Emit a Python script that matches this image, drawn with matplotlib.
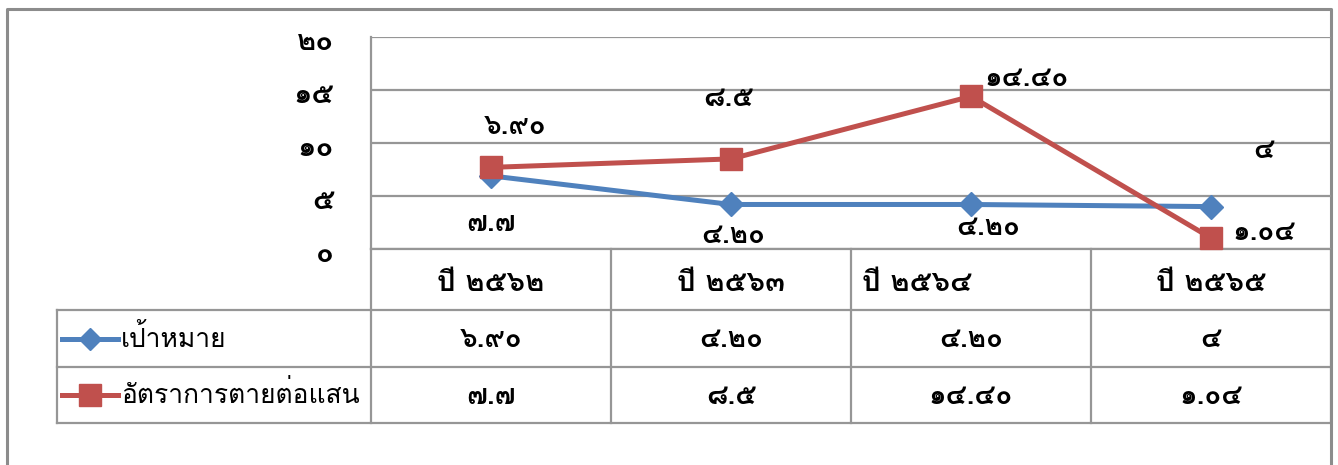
import matplotlib
matplotlib.use("Agg")
import matplotlib.pyplot as plt
from matplotlib.lines import Line2D

plt.rcParams['font.family'] = ['Loma', 'DejaVu Sans']

# ---- data ----
categories = ["ปี ๒๕๖๒", "ปี ๒๕๖๓", "ปี ๒๕๖๔", "ปี ๒๕๖๕"]
series_names = ["เป้าหมาย", "อัตราการตายต่อแสน"]
target = [6.90, 4.20, 4.20, 4.0]
death_rate = [7.7, 8.5, 14.40, 1.04]
target_labels = ["๖.๙๐", "๔.๒๐", "๔.๒๐", "๔"]
death_labels = ["๗.๗", "๘.๕", "๑๔.๔๐", "๑.๐๔"]
y_ticks = [0, 5, 10, 15, 20]
y_tick_labels = ["๐", "๕", "๑๐", "๑๕", "๒๐"]

BLUE = "#4F81BD"
RED = "#C0504D"
GRID = "#969696"
NUM_FS = 20

W, H = 1338, 465
fig = plt.figure(figsize=(W / 100, H / 100), dpi=100)

def fx(px):
    return px / W

def fy(py):
    return 1 - py / H

# overlay axes in pixel coordinates (y downward)
ov = fig.add_axes([0, 0, 1, 1])
ov.set_xlim(0, W)
ov.set_ylim(H, 0)
ov.axis('off')

# plot area
L, R, T, B = 371, 1331, 37, 249
ax = fig.add_axes([fx(L), fy(B), fx(R) - fx(L), fy(T) - fy(B)])
ax.set_xlim(0, len(categories))
ax.set_ylim(0, 20)
ax.patch.set_alpha(0)
x = [i + 0.5 for i in range(len(categories))]
for yv in y_ticks:
    ax.axhline(yv, color=GRID, lw=1.6, zorder=0)
for s in ['top', 'bottom', 'right']:
    ax.spines[s].set_visible(False)
ax.spines['left'].set_color(GRID)
ax.spines['left'].set_linewidth(1.6)
ax.set_xticks([])
ax.set_yticks([])

ax.plot(x, target, color=BLUE, lw=3.6, marker='D', ms=12, zorder=3, clip_on=False)
ax.plot(x, death_rate, color=RED, lw=3.6, marker='s', ms=16, zorder=4, clip_on=False)

# y tick labels
for yv, t in zip(y_ticks, y_tick_labels):
    ax.text(-0.155, yv - 0.45, t, ha='right', va='center', fontsize=NUM_FS + 1,
            fontweight='bold')

# data labels (positioned as in the reference)
label_pos = [
    (target_labels[0], 0.6, 11.6),
    (death_labels[0], 0.5, 2.4),
    (death_labels[1], 1.49, 14.2),
    (target_labels[1], 1.51, 1.3),
    (death_labels[2], 2.73, 16.1),
    (target_labels[2], 2.57, 2.0),
    (target_labels[3], 3.72, 9.3),
    (death_labels[3], 3.72, 1.6),
]
for txt, xv, yv in label_pos:
    ax.text(xv, yv, txt, ha='center', va='center', fontsize=NUM_FS, fontweight='bold')

# ---- data table ----
col_edges = [371, 611, 851, 1091, 1331]
row_edges = [249, 310, 367, 423]
tab_left = 57
lw_t = 1.6
ov.plot([col_edges[0], col_edges[-1]], [row_edges[0], row_edges[0]], color=GRID, lw=lw_t)
for yv in row_edges[1:]:
    ov.plot([tab_left, col_edges[-1]], [yv, yv], color=GRID, lw=lw_t)
ov.plot([tab_left, tab_left], [row_edges[1], row_edges[3]], color=GRID, lw=lw_t)
for xv in col_edges:
    ov.plot([xv, xv], [row_edges[0], row_edges[3]], color=GRID, lw=lw_t)

# header
header_x = [491, 731, 917, 1211]
for hx, c in zip(header_x, categories):
    ov.text(hx, 283, c, ha='center', va='center', fontsize=NUM_FS + 1, fontweight='bold')

# row labels with legend keys
row_mid = [(row_edges[1] + row_edges[2]) / 2, (row_edges[2] + row_edges[3]) / 2]
ov.add_line(Line2D([62, 118], [row_mid[0], row_mid[0]], color=BLUE, lw=3.6))
ov.plot([90], [row_mid[0]], marker='D', color=BLUE, ms=11)
ov.add_line(Line2D([62, 118], [row_mid[1], row_mid[1]], color=RED, lw=3.6))
ov.plot([90], [row_mid[1]], marker='s', color=RED, ms=16)
for ym, name in zip(row_mid, series_names):
    ov.text(121, ym - 1, name, ha='left', va='center', fontsize=19)

for i in range(len(categories)):
    cx = (col_edges[i] + col_edges[i + 1]) / 2
    ov.text(cx, row_mid[0] + 1, target_labels[i], ha='center', va='center', fontsize=NUM_FS, fontweight='bold')
    ov.text(cx, row_mid[1] + 1, death_labels[i], ha='center', va='center', fontsize=NUM_FS, fontweight='bold')

# outer chart border
ov.plot([7, 7, 1331, 1331], [H + 5, 9, 9, H + 5], color="#8C8C8C", lw=2.2, clip_on=False)

fig.savefig("out.png", dpi=100)
